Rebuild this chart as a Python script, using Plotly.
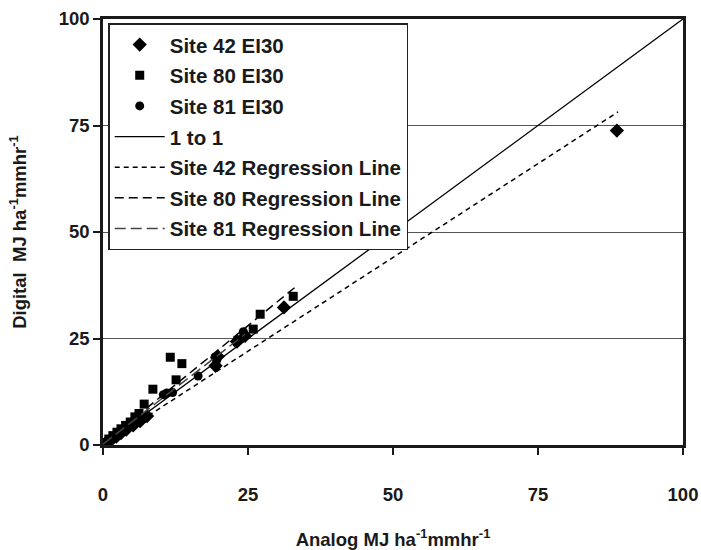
import plotly.graph_objects as go

# ---- data ----
site42_x = [0.3, 0.9, 1.5, 2.3, 3.1, 4.0, 5.2, 6.4, 7.6, 19.4, 19.8, 23.1, 24.5, 31.2, 88.6]
site42_y = [0.2, 0.8, 1.3, 2.0, 2.8, 3.6, 4.6, 5.6, 6.8, 18.6, 20.8, 24.3, 25.6, 32.3, 73.8]

site80_x = [0.4, 1.0, 1.7, 2.4, 3.1, 3.9, 4.7, 5.5, 6.2, 7.1, 8.6, 11.6, 12.6, 13.6, 25.9, 27.1, 32.8]
site80_y = [0.6, 1.4, 2.2, 3.0, 3.8, 4.6, 5.4, 6.6, 7.4, 9.6, 13.1, 20.6, 15.3, 19.1, 27.2, 30.7, 34.9]

site81_x = [0.4, 1.0, 1.8, 2.6, 3.5, 4.4, 5.2, 6.0, 10.4, 11.0, 12.0, 16.4, 19.3, 19.6, 23.0, 24.2]
site81_y = [0.5, 1.1, 2.0, 3.0, 3.8, 4.9, 5.6, 6.3, 11.8, 12.2, 12.3, 16.2, 20.6, 19.9, 24.0, 26.6]

one_x = [0, 100]
one_y = [0, 100]
reg42_x = [0, 88.8]
reg42_y = [0, 78.2]
reg80_x = [0, 33.1]
reg80_y = [0.3, 37.0]
reg81_x = [0, 24.5]
reg81_y = [0.2, 26.0]

x_ticks = [0, 25, 50, 75, 100]
y_ticks = [0, 25, 50, 75, 100]

FONT = "Liberation Sans, Arial, sans-serif"
INK = "#1a1a1a"

fig = go.Figure()
fig.add_trace(go.Scatter(x=site42_x, y=site42_y, mode="markers", name="Site 42 EI30",
                         legendgroup="a",
                         marker=dict(symbol="diamond", size=11, color="black")))
fig.add_trace(go.Scatter(x=site80_x, y=site80_y, mode="markers", name="Site 80 EI30",
                         legendgroup="b",
                         marker=dict(symbol="square", size=9, color="black")))
fig.add_trace(go.Scatter(x=site81_x, y=site81_y, mode="markers", name="Site 81 EI30",
                         legendgroup="c",
                         marker=dict(symbol="circle", size=9, color="black")))
fig.add_trace(go.Scatter(x=one_x, y=one_y, mode="lines", name="1 to 1",
                         legendgroup="d",
                         line=dict(color="black", width=1.3)))
fig.add_trace(go.Scatter(x=reg42_x, y=reg42_y, mode="lines", name="Site 42 Regression Line",
                         legendgroup="e",
                         line=dict(color="black", width=1.5, dash="5px,4px")))
fig.add_trace(go.Scatter(x=reg80_x, y=reg80_y, mode="lines", name="Site 80 Regression Line",
                         legendgroup="f",
                         line=dict(color="black", width=1.5, dash="9px,5px")))
fig.add_trace(go.Scatter(x=reg81_x, y=reg81_y, mode="lines", name="Site 81 Regression Line",
                         legendgroup="g",
                         line=dict(color="#444444", width=1.5, dash="11px,5px")))

fig.update_layout(
    width=701, height=550,
    margin=dict(l=103, r=18, t=19, b=105),
    paper_bgcolor="white", plot_bgcolor="white",
    font=dict(family=FONT, size=18.5, color=INK, weight="bold"),
    showlegend=True,
    legend=dict(x=0.009, y=0.99, xanchor="left", yanchor="top",
                bgcolor="white", bordercolor="#222222", borderwidth=1.5,
                font=dict(family=FONT, size=20.5, color=INK, weight="bold"),
                tracegroupgap=1, itemwidth=50),
    xaxis=dict(range=[0, 100], tickvals=x_ticks, ticks="outside", ticklen=7,
               tickwidth=2, tickcolor=INK, automargin=False, ticklabelstandoff=24,
               showline=True, linecolor=INK, linewidth=2.5, mirror=True,
               showgrid=False, zeroline=False,
               title=dict(text="<b>Analog MJ ha<sup>-1</sup>mmhr<sup>-1</sup></b>",
                          font=dict(family=FONT, size=18.5), standoff=30)),
    yaxis=dict(range=[0, 100], tickvals=y_ticks, ticks="outside", ticklen=7,
               tickwidth=2, tickcolor=INK, automargin=False,
               showline=True, linecolor=INK, linewidth=2.5, mirror=True,
               showgrid=True, gridcolor="#555555", gridwidth=1, zeroline=False,
               title=dict(text="<b>Digital  MJ ha<sup>-1</sup>mmhr<sup>-1</sup></b>",
                          font=dict(family=FONT, size=18.5), standoff=28)),
)

fig.write_html("out.html", config={"displayModeBar": False},
               post_script="document.body.style.margin='0';document.body.style.padding='0';")
